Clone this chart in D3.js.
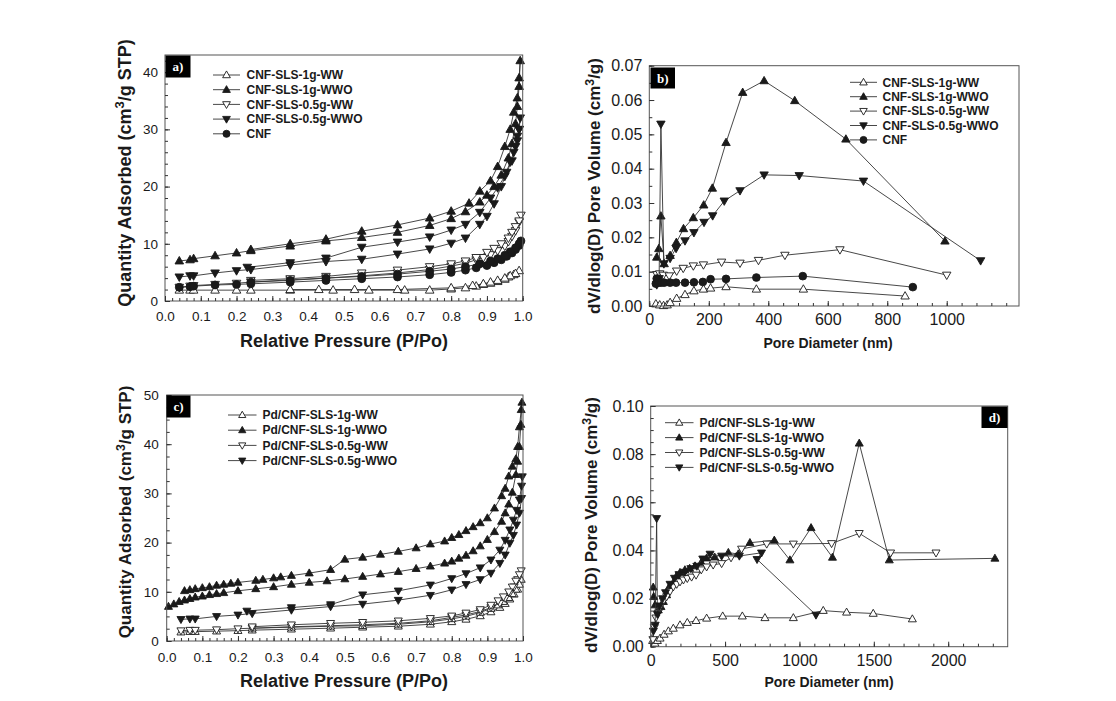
<!DOCTYPE html>
<html><head><meta charset="utf-8">
<script src="https://cdn.jsdelivr.net/npm/d3@7"></script>
<style>body{margin:0;background:#fff}svg{display:block}</style>
</head><body><svg id="chart" width="1116" height="701"></svg>
<script>
// ---------------- DATA ----------------
// Panel a: N2 isotherms (relative pressure, quantity adsorbed), adsorption then desorption
const legendA = ["CNF-SLS-1g-WW","CNF-SLS-1g-WWO","CNF-SLS-0.5g-WW","CNF-SLS-0.5g-WWO","CNF"];
const a_1gWW = [[0.04,1.9],[0.07,1.9],[0.08,1.9],[0.14,1.9],[0.20,1.9],[0.24,1.9],[0.35,1.9],[0.47,1.9],[0.57,1.9],[0.67,1.9],[0.74,1.9],[0.80,2.1],[0.84,2.3],[0.87,2.6],[0.89,2.9],[0.91,3.1],[0.93,3.4],[0.95,3.8],[0.96,4.2],[0.975,4.6],[0.99,5.3],
  [0.98,4.8],[0.965,4.4],[0.95,4.0],[0.93,3.6],[0.91,3.3],[0.89,3.0],[0.86,2.7],[0.80,2.3],[0.65,2.0],[0.53,2.0],[0.43,2.0],[0.35,2.0]];
const a_1gWWO = [[0.04,7.0],[0.07,7.2],[0.08,7.4],[0.14,7.9],[0.20,8.4],[0.24,8.8],[0.35,9.6],[0.45,10.5],[0.55,11.1],[0.65,12.0],[0.74,13.2],[0.80,14.4],[0.84,15.6],[0.88,17.3],[0.90,18.5],[0.92,20.0],[0.94,22.0],[0.96,25.0],[0.97,27.5],[0.98,31.0],[0.985,34.0],[0.99,37.5],[0.993,42.0],
  [0.99,39.0],[0.985,35.5],[0.975,33.0],[0.965,30.0],[0.95,27.0],[0.93,23.5],[0.91,21.0],[0.88,19.2],[0.85,17.1],[0.80,15.7],[0.74,14.5],[0.65,13.3],[0.55,12.2],[0.45,10.8],[0.35,10.0],[0.24,9.0]];
const a_05gWW = [[0.04,2.4],[0.07,2.6],[0.08,2.7],[0.14,2.9],[0.20,3.1],[0.24,3.3],[0.35,3.7],[0.45,4.0],[0.55,4.4],[0.65,4.9],[0.74,5.5],[0.80,6.1],[0.84,6.6],[0.87,7.2],[0.89,7.6],[0.91,8.1],[0.93,8.8],[0.95,9.6],[0.96,10.4],[0.97,11.3],[0.98,12.3],[0.99,13.8],[0.995,15.0],
  [0.99,14.0],[0.98,13.0],[0.97,12.0],[0.96,11.0],[0.94,10.0],[0.92,9.2],[0.90,8.5],[0.87,7.6],[0.84,7.0],[0.80,6.5],[0.74,6.0],[0.65,5.4],[0.55,4.9],[0.45,4.3],[0.35,3.9],[0.24,3.6]];
const a_05gWWO = [[0.04,4.2],[0.07,4.4],[0.08,4.4],[0.14,4.9],[0.20,5.3],[0.24,5.5],[0.35,6.3],[0.45,6.9],[0.55,7.3],[0.65,8.2],[0.74,9.1],[0.80,10.1],[0.84,11.0],[0.88,13.4],[0.90,14.8],[0.92,17.0],[0.94,20.0],[0.955,22.5],[0.97,24.5],[0.98,27.0],[0.985,28.8],[0.99,30.0],[0.993,32.0],
  [0.99,30.0],[0.985,28.0],[0.975,26.0],[0.965,24.3],[0.95,21.8],[0.93,19.8],[0.91,18.0],[0.88,15.5],[0.84,13.4],[0.80,12.4],[0.74,11.2],[0.65,10.3],[0.55,9.4],[0.45,7.5],[0.35,6.7],[0.23,5.9]];
const a_CNF = [[0.04,2.4],[0.07,2.5],[0.08,2.6],[0.14,2.8],[0.20,2.9],[0.24,3.0],[0.35,3.3],[0.45,3.6],[0.55,3.9],[0.65,4.2],[0.74,4.6],[0.80,5.0],[0.84,5.4],[0.87,5.8],[0.90,6.2],[0.92,6.7],[0.94,7.2],[0.955,7.8],[0.97,8.4],[0.98,9.0],[0.99,9.7],[0.995,10.5],
  [0.99,10.0],[0.98,9.3],[0.965,8.6],[0.95,8.0],[0.93,7.4],[0.91,7.0],[0.88,6.5],[0.84,6.0],[0.80,5.6],[0.74,5.2],[0.65,4.7],[0.55,4.3],[0.45,4.0],[0.35,3.6],[0.24,3.3]];

// Panel b: pore size distribution (pore diameter nm, dV/dlogD)
const b_1gWW = [[22,0.0006],[35,0.0003],[48,0.0001],[60,0.0003],[70,0.0010],[92,0.0022],[120,0.0033],[150,0.0044],[182,0.0049],[206,0.0052],[258,0.0056],[360,0.0049],[518,0.0049],[860,0.0029]];
const b_1gWWO = [[25,0.0142],[32,0.0167],[39,0.0262],[50,0.0123],[70,0.0147],[91,0.0185],[115,0.0225],[148,0.0257],[183,0.0294],[212,0.0343],[258,0.0476],[314,0.0622],[386,0.0656],[489,0.0598],[661,0.0486],[994,0.0189]];
const b_05gWW = [[25,0.0092],[35,0.0094],[47,0.0090],[67,0.0088],[92,0.0102],[114,0.0110],[148,0.0117],[182,0.0120],[243,0.0128],[305,0.0125],[367,0.0133],[456,0.0148],[641,0.0164],[1000,0.0090]];
const b_05gWWO = [[25,0.0062],[33,0.0080],[39,0.0530],[49,0.0123],[70,0.0139],[90,0.0168],[120,0.0190],[150,0.0214],[184,0.0244],[213,0.0263],[252,0.0306],[305,0.0336],[386,0.0382],[504,0.0380],[720,0.0364],[1114,0.0132]];
const b_CNF = [[22,0.0065],[25,0.0080],[28,0.0075],[32,0.0068],[40,0.0068],[50,0.0068],[70,0.0068],[90,0.0068],[120,0.0068],[150,0.0069],[180,0.0070],[206,0.0078],[258,0.0079],[360,0.0083],[516,0.0087],[886,0.0055]];

// Panel c: Pd/CNF isotherms
const legendC = ["Pd/CNF-SLS-1g-WW","Pd/CNF-SLS-1g-WWO","Pd/CNF-SLS-0.5g-WW","Pd/CNF-SLS-0.5g-WWO"];
const c_1gWW = [[0.04,1.8],[0.065,1.9],[0.08,1.9],[0.14,2.0],[0.2,2.1],[0.24,2.2],[0.35,2.4],[0.46,2.6],[0.55,2.8],[0.65,3.0],[0.74,3.4],[0.8,3.9],[0.84,4.4],[0.88,5.1],[0.91,5.9],[0.935,6.8],[0.95,7.6],[0.963,8.5],[0.975,9.5],[0.985,10.5],[0.995,12.5],
  [0.99,11.5],[0.98,10.5],[0.97,9.6],[0.96,8.8],[0.945,8.0],[0.93,7.3],[0.91,6.6],[0.88,5.8],[0.84,5.0],[0.8,4.5],[0.74,3.9],[0.65,3.4],[0.55,3.1],[0.46,3.0],[0.35,2.8],[0.24,2.6]];
const c_1gWWO = [[0.005,7.0],[0.02,7.5],[0.035,8.0],[0.05,8.3],[0.065,8.6],[0.08,8.9],[0.1,9.1],[0.12,9.4],[0.14,9.6],[0.16,9.8],[0.2,10.2],[0.25,10.6],[0.3,11.0],[0.35,11.5],[0.4,11.9],[0.45,12.2],[0.5,12.6],[0.55,13.1],[0.6,13.6],[0.65,14.1],[0.7,14.7],[0.74,15.2],[0.78,15.8],[0.8,16.2],[0.82,16.8],[0.84,17.4],[0.86,18.3],[0.88,19.3],[0.9,20.6],[0.92,22.2],[0.94,24.3],[0.95,26.0],[0.96,27.8],[0.97,30.2],[0.98,33.8],[0.985,36.5],[0.99,39.5],[0.994,44.0],[0.997,48.5],
  [0.995,47.0],[0.99,43.5],[0.985,39.5],[0.98,37.0],[0.97,35.5],[0.96,33.5],[0.95,31.0],[0.94,29.5],[0.92,27.0],[0.9,25.0],[0.88,24.0],[0.86,23.2],[0.84,22.4],[0.82,21.6],[0.8,21.0],[0.78,20.3],[0.74,19.7],[0.7,18.9],[0.65,18.2],[0.6,17.6],[0.55,17.0],[0.5,16.6],[0.46,14.5],[0.4,13.8],[0.35,13.3],[0.32,13.0],[0.3,12.8],[0.27,12.5],[0.25,12.3],[0.2,11.9],[0.18,11.7],[0.16,11.5],[0.14,11.3],[0.12,11.0],[0.1,10.8],[0.08,10.6],[0.065,10.4],[0.05,10.2]];
const c_05gWW = [[0.04,2.1],[0.065,2.2],[0.08,2.2],[0.14,2.3],[0.2,2.5],[0.24,2.6],[0.35,2.9],[0.46,3.1],[0.55,3.3],[0.65,3.6],[0.74,4.1],[0.8,4.8],[0.84,5.3],[0.88,6.0],[0.91,6.8],[0.935,7.7],[0.95,8.7],[0.963,9.8],[0.975,11.0],[0.985,12.5],[0.995,14.3],
  [0.99,13.5],[0.98,12.2],[0.97,11.0],[0.96,10.0],[0.945,9.0],[0.93,8.2],[0.91,7.3],[0.88,6.4],[0.84,5.7],[0.8,5.1],[0.74,4.6],[0.65,4.1],[0.55,3.8],[0.46,3.6],[0.35,3.3],[0.24,2.9]];
const c_05gWWO = [[0.04,4.4],[0.065,4.5],[0.08,4.5],[0.14,5.0],[0.2,5.3],[0.24,5.6],[0.35,6.3],[0.46,7.0],[0.55,7.5],[0.65,8.3],[0.74,9.3],[0.8,10.4],[0.84,11.5],[0.88,12.5],[0.91,13.8],[0.935,15.8],[0.95,17.5],[0.963,19.9],[0.973,21.5],[0.982,23.6],[0.99,26.0],[0.996,29.0],[0.998,33.4],
  [0.996,31.5],[0.99,28.7],[0.982,26.6],[0.973,24.6],[0.963,22.6],[0.95,20.5],[0.935,18.5],[0.91,16.5],[0.88,14.9],[0.84,13.7],[0.8,12.7],[0.74,11.4],[0.65,10.2],[0.55,9.4],[0.46,7.4],[0.35,6.8],[0.225,6.1]];

// Panel d: Pd/CNF pore size distribution
const d_1gWW = [[13,0.0025],[29,0.0014],[45,0.0025],[63,0.0035],[90,0.0051],[119,0.0065],[152,0.0076],[197,0.0090],[246,0.0100],[305,0.0108],[376,0.0118],[484,0.0127],[616,0.0127],[768,0.0120],[959,0.0120],[1160,0.0150],[1317,0.0143],[1496,0.0138],[1759,0.0115]];
const d_1gWWO = [[17,0.0247],[20,0.0208],[29,0.0173],[51,0.0152],[69,0.0166],[85,0.0187],[107,0.0215],[123,0.0247],[152,0.0266],[174,0.0294],[197,0.0308],[230,0.0319],[262,0.0325],[298,0.0335],[340,0.0350],[376,0.0368],[430,0.0372],[522,0.0391],[589,0.0385],[667,0.0432],[831,0.0442],[936,0.0360],[1078,0.0494],[1222,0.0371],[1402,0.0845],[1604,0.0360],[2314,0.0367]];
const d_05gWW = [[15,0.0030],[25,0.0080],[35,0.0120],[50,0.0140],[63,0.0166],[85,0.0190],[107,0.0208],[130,0.0230],[152,0.0249],[175,0.0260],[197,0.0270],[220,0.0278],[246,0.0284],[275,0.0290],[305,0.0298],[340,0.0320],[376,0.0332],[420,0.0340],[477,0.0346],[540,0.0370],[611,0.0406],[780,0.0427],[959,0.0427],[1216,0.0429],[1402,0.0471],[1613,0.0390],[1918,0.0390]];
const d_05gWWO = [[18,0.0065],[30,0.0090],[40,0.0533],[45,0.0135],[60,0.0170],[80,0.0200],[100,0.0225],[130,0.0260],[160,0.0285],[190,0.0300],[230,0.0310],[270,0.0325],[310,0.0335],[350,0.0365],[399,0.0385],[477,0.0377],[596,0.0377],[745,0.0390],[715,0.0363],[1111,0.0132]];

// Tick labels
const isoXTicks = [0,0.1,0.2,0.3,0.4,0.5,0.6,0.7,0.8,0.9,1.0];
const aYTicks = [0,10,20,30,40];
const bXTicks = [0,200,400,600,800,1000];
const bYTicks = [0,0.01,0.02,0.03,0.04,0.05,0.06,0.07];
const cYTicks = [0,10,20,30,40,50];
const dXTicks = [0,500,1000,1500,2000];
const dYTicks = [0,0.02,0.04,0.06,0.08,0.10];

// ---------------- DRAWING ----------------
const svg = d3.select('#chart');
svg.append('rect').attr('width',1116).attr('height',701).attr('fill','#fff');
const FONT = "'Liberation Sans', Arial, Helvetica, sans-serif";
const INK = '#1a1a1a';

function shapePath(shape, s){
  if (shape.startsWith('up')) return `M0,${-1.05*s}L${s},${0.7*s}L${-s},${0.7*s}Z`;
  if (shape.startsWith('down')) return `M0,${1.05*s}L${s},${-0.7*s}L${-s},${-0.7*s}Z`;
  return d3.arc()({innerRadius:0,outerRadius:s*0.92,startAngle:0,endAngle:2*Math.PI});
}
function addMarker(g, shape, x, y, s){
  const filled = shape.endsWith('F');
  g.append('path').attr('d', shapePath(shape, s))
   .attr('transform',`translate(${x},${y})`)
   .attr('fill', filled ? INK : '#fff')
   .attr('stroke', INK).attr('stroke-width', 0.9);
}

function drawPanel(p){
  const g = svg.append('g');
  const xs = d3.scaleLinear().domain(p.xDom).range([p.x0,p.x1]);
  const ys = d3.scaleLinear().domain(p.yDom).range([p.yB,p.yT]);

  const line = d3.line().x(d=>xs(d[0])).y(d=>ys(d[1]));
  p.series.forEach(s=>{
    g.append('path').attr('d', line(s.data)).attr('fill','none')
     .attr('stroke','#333').attr('stroke-width',0.9);
    s.data.forEach(d=>addMarker(g, s.shape, xs(d[0]), ys(d[1]), p.ms));
  });

  g.append('rect').attr('x',p.x0).attr('y',p.yT).attr('width',p.x1-p.x0).attr('height',p.yB-p.yT)
   .attr('fill','none').attr('stroke','#555').attr('stroke-width',1);

  const style = (sel, fs)=>{
    sel.select('.domain').remove();
    sel.selectAll('line').attr('stroke','#333');
    sel.selectAll('text').attr('font-family',FONT).attr('font-size',fs).attr('fill',INK);
  };
  g.append('g').attr('transform',`translate(0,${p.yB})`)
   .call(d3.axisBottom(xs).tickValues(p.xMinor).tickSize(-3).tickFormat('')).call(s=>style(s,p.fs));
  g.append('g').attr('transform',`translate(0,${p.yB})`)
   .call(d3.axisBottom(xs).tickValues(p.xTicks).tickSize(-5).tickPadding(p.xPad).tickFormat(p.xFmt)).call(s=>style(s,p.fs));
  g.append('g').attr('transform',`translate(${p.x0},0)`)
   .call(d3.axisLeft(ys).tickValues(p.yMinor).tickSize(-3).tickFormat('')).call(s=>style(s,p.fs));
  g.append('g').attr('transform',`translate(${p.x0},0)`)
   .call(d3.axisLeft(ys).tickValues(p.yTicks).tickSize(-5).tickPadding(p.yPad).tickFormat(p.yFmt)).call(s=>style(s,p.fs));

  g.append('text').attr('x',p.xt.x).attr('y',p.xt.y).attr('text-anchor','middle')
   .attr('font-family',FONT).attr('font-weight','bold').attr('font-size',p.xt.size).attr('fill',INK).text(p.xt.text);
  const yt = g.append('text').attr('transform',`translate(${p.yt.x},${p.yt.y}) rotate(-90)`)
   .attr('text-anchor','middle').attr('font-family',FONT).attr('font-weight','bold')
   .attr('font-size',p.yt.size).attr('fill',INK);
  yt.append('tspan').text(p.yt.pre);
  yt.append('tspan').attr('dy',-p.yt.size*0.38).attr('font-size',p.yt.size*0.72).text('3');
  yt.append('tspan').attr('dy',p.yt.size*0.38).text(p.yt.post);

  g.append('rect').attr('x',p.box.x).attr('y',p.box.y).attr('width',p.box.w).attr('height',p.box.h).attr('fill','#000');
  g.append('text').attr('x',p.box.x+p.box.w/2).attr('y',p.box.y+p.box.h/2+4.5).attr('text-anchor','middle')
   .attr('font-family',"'Liberation Serif','Times New Roman',serif").attr('font-weight','bold')
   .attr('font-size',13).attr('fill','#fff').text(p.box.label);

  p.series.forEach((s,i)=>{
    const y = p.lg.y0 + i*p.lg.dy;
    g.append('line').attr('x1',p.lg.x1).attr('x2',p.lg.x2).attr('y1',y).attr('y2',y)
     .attr('stroke','#333').attr('stroke-width',0.9);
    addMarker(g, s.shape, (p.lg.x1+p.lg.x2)/2, y, p.ms*0.9);
    g.append('text').attr('x',p.lg.tx).attr('y',y+4.2).attr('font-family',FONT).attr('font-weight','bold')
     .attr('font-size',12).attr('fill',INK).text(s.name);
  });
}

const f1 = d3.format('.1f'), fd = d3.format('d'), f2 = d3.format('.2f');

drawPanel({x0:165,x1:522.7,yB:301,yT:55,xDom:[0,1],yDom:[0,43],
  xTicks:isoXTicks,yTicks:aYTicks,xMinor:d3.range(0,1.0001,0.02),yMinor:d3.range(0,43,2),
  xFmt:f1,yFmt:fd,fs:13.5,xPad:10,yPad:7,ms:4.3,
  series:[{data:a_1gWW,shape:'upO',name:legendA[0]},{data:a_1gWWO,shape:'upF',name:legendA[1]},
          {data:a_05gWW,shape:'downO',name:legendA[2]},{data:a_05gWWO,shape:'downF',name:legendA[3]},
          {data:a_CNF,shape:'circF',name:legendA[4]}],
  xt:{x:344,y:347,size:18,text:'Relative Pressure (P/Po)'},
  yt:{x:131,y:173,size:18,pre:'Quantity Adsorbed (cm',post:'/g STP)'},
  box:{x:165.5,y:55.5,w:25,h:22,label:'a)'},
  lg:{x1:213,x2:240,tx:246.5,y0:75,dy:14.7}});

drawPanel({x0:649.3,x1:1019,yB:306,yT:65.7,xDom:[0,1243],yDom:[0,0.07],
  xTicks:bXTicks,yTicks:bYTicks,xMinor:d3.range(0,1243,50),yMinor:d3.range(0,0.0701,0.005),
  xFmt:fd,yFmt:f2,fs:16,xPad:8,yPad:7,ms:4.2,
  series:[{data:b_1gWW,shape:'upO',name:legendA[0]},{data:b_1gWWO,shape:'upF',name:legendA[1]},
          {data:b_05gWW,shape:'downO',name:legendA[2]},{data:b_05gWWO,shape:'downF',name:legendA[3]},
          {data:b_CNF,shape:'circF',name:legendA[4]}],
  xt:{x:828,y:348,size:14,text:'Pore Diameter (nm)'},
  yt:{x:600,y:186,size:17,pre:'dV/dlog(D) Pore Volume (cm',post:'/g)'},
  box:{x:650.5,y:67.5,w:24.5,h:21,label:'b)'},
  lg:{x1:850,x2:877,tx:882.5,y0:82.3,dy:14.4}});

drawPanel({x0:166.7,x1:523,yB:641,yT:395,xDom:[0,1],yDom:[0,50],
  xTicks:isoXTicks,yTicks:cYTicks,xMinor:d3.range(0,1.0001,0.02),yMinor:d3.range(0,50.01,2.5),
  xFmt:f1,yFmt:fd,fs:13.5,xPad:11,yPad:8,ms:4.0,
  series:[{data:c_1gWW,shape:'upO',name:legendC[0]},{data:c_1gWWO,shape:'upF',name:legendC[1]},
          {data:c_05gWW,shape:'downO',name:legendC[2]},{data:c_05gWWO,shape:'downF',name:legendC[3]}],
  xt:{x:344,y:687,size:18,text:'Relative Pressure (P/Po)'},
  yt:{x:131,y:512,size:17,pre:'Quantity Adsorbed (cm',post:'/g STP)'},
  box:{x:166.5,y:395.5,w:24,h:22,label:'c)'},
  lg:{x1:228,x2:256.5,tx:262.5,y0:415,dy:15.2}});

drawPanel({x0:650.7,x1:1007.7,yB:646.7,yT:406,xDom:[0,2400],yDom:[0,0.1],
  xTicks:dXTicks,yTicks:dYTicks,xMinor:d3.range(0,2400,100),yMinor:d3.range(0,0.1001,0.005),
  xFmt:fd,yFmt:f2,fs:16,xPad:8,yPad:7,ms:4.0,
  series:[{data:d_1gWW,shape:'upO',name:legendC[0]},{data:d_1gWWO,shape:'upF',name:legendC[1]},
          {data:d_05gWW,shape:'downO',name:legendC[2]},{data:d_05gWWO,shape:'downF',name:legendC[3]}],
  xt:{x:829,y:687,size:14,text:'Pore Diameter (nm)'},
  yt:{x:597,y:525,size:17,pre:'dV/dlog(D) Pore Volume (cm',post:'/g)'},
  box:{x:981.5,y:406.5,w:26,h:21.5,label:'d)'},
  lg:{x1:665,x2:693.5,tx:699.5,y0:422.7,dy:14.9}});
</script>
</body></html>
